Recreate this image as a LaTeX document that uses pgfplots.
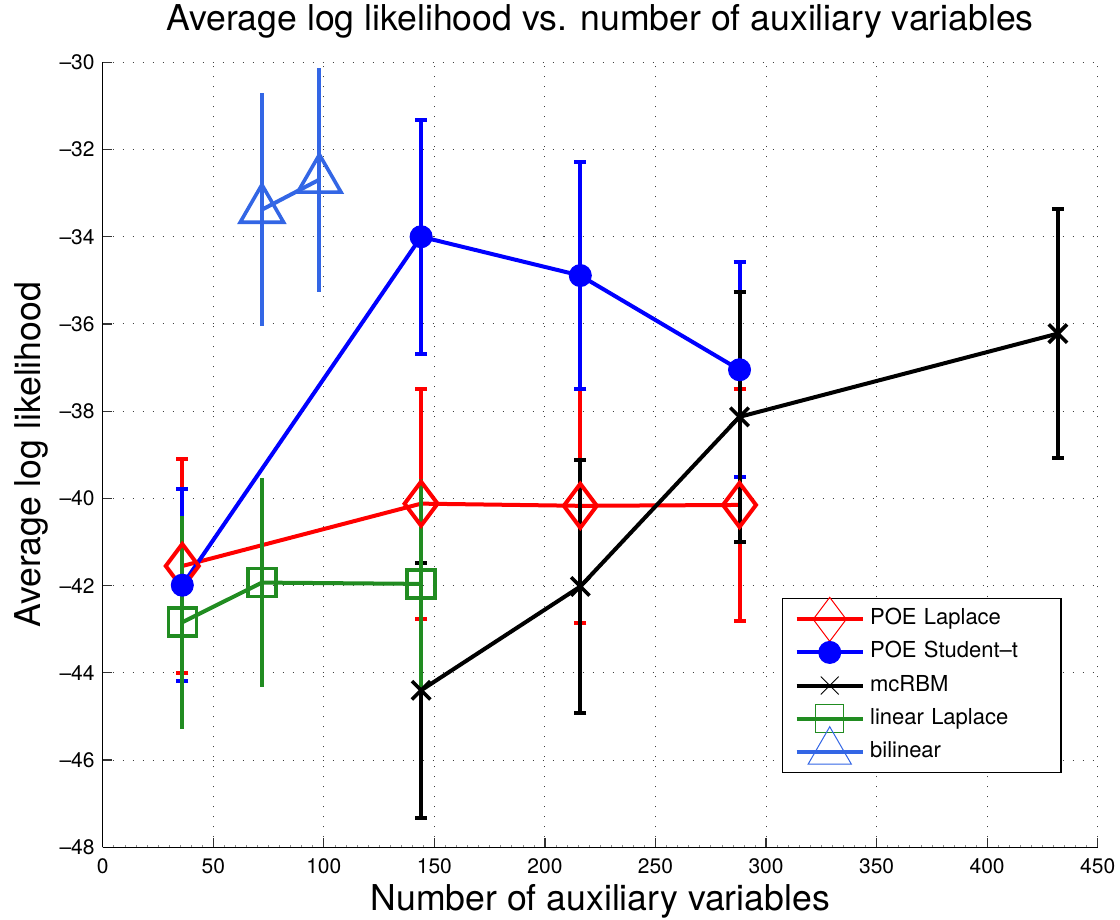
\documentclass[border=0pt]{standalone}
\usepackage{fontspec}
\setmainfont{TeX Gyre Heros}
\usepackage{pgfplots}
\pgfplotsset{compat=1.18}
\definecolor{mred}{rgb}{1,0,0}
\definecolor{mblue}{rgb}{0,0,1}
\definecolor{mgreen}{rgb}{0.13,0.55,0.13}
\definecolor{mbil}{rgb}{0.2,0.4,0.9}
\begin{document}
\begin{tikzpicture}
\begin{axis}[
  name=ax,
  scale only axis,
  width=497.5pt, height=392.5pt,
  xmin=0, xmax=450, ymin=-48, ymax=-30,
  xtick={0,50,...,450},
  ytick={-48,-46,...,-30},
  yticklabels={–48,–46,–44,–42,–40,–38,–36,–34,–32,–30},
  minor x tick num=9,
  axis x line*=bottom, axis y line*=left,
  axis line style={-, line width=0.7pt},
  tick align=inside,
  major tick length=4.5pt, minor tick length=1pt,
  major tick style={black!80, line width=0.6pt},
  minor tick style={black!45, line width=0.3pt},
  grid=major,
  major grid style={black!75, line width=0.5pt, dash pattern=on 0.6pt off 4.4pt},
  /pgf/number format/assume math mode=true,
  ticklabel style={font=\fontsize{10.5}{12}\selectfont},
  xticklabel style={anchor=base, yshift=-13.2pt, inner sep=0pt},
  yticklabel style={anchor=east, xshift=-3.85pt, inner sep=0pt},
  title={Average log likelihood vs. number of auxiliary variables},
  title style={at={(axis description cs:0.5,1.025)}, anchor=base, font=\fontsize{17.8}{21}\selectfont},
  xlabel={Number of auxiliary variables},
  xlabel style={at={(axis description cs:0.5,-0.0803)}, anchor=base, font=\fontsize{17.8}{21}\selectfont},
  ylabel={Average log likelihood},
  ylabel style={at={(axis description cs:-0.0623,0.5)}, anchor=base, font=\fontsize{17.8}{21}\selectfont},
  legend style={at={(0.964,0.318)}, anchor=north east, draw=black, line width=0.75pt, fill=white,
    font=\fontsize{11}{13}\selectfont, row sep=2.05pt, inner xsep=7pt, inner ysep=3.2pt,
    nodes={text width=84.8pt, align=left, text height=8pt, text depth=2.5pt, inner ysep=2pt, inner xsep=3.7pt}},
  legend cell align=left,
  legend image code/.code={\path[draw=none, fill=none] (0pt,-3pt) rectangle (33pt,3pt);
    \draw[overlay, mark repeat=2,mark phase=2] plot coordinates {(0pt,0pt) (16.5pt,0pt) (33pt,0pt)};},
  every axis plot/.append style={line width=2pt},
  error bars/error bar style={line width=2pt, solid},
]
% POE Laplace
\addplot[forget plot, mred, mark=diamond, mark size=11pt, mark options={line width=2pt, fill=none},
  error bars/.cd, y dir=both, y explicit,
  error mark options={rotate=90, mark size=3pt, line width=2pt, mred}]
  table[x=x, y=y, y error=e] {
x y e
36 -41.55 2.46
144 -40.12 2.64
216 -40.17 2.68
288 -40.15 2.67
};
% POE Student-t
\addplot[forget plot, mblue, mark=*, mark size=5.5pt, mark options={fill=mblue, line width=0.5pt},
  error bars/.cd, y dir=both, y explicit,
  error mark options={rotate=90, mark size=3pt, line width=2pt, mblue}]
  table[x=x, y=y, y error=e] {
x y e
36 -41.99 2.20
144 -34.00 2.68
216 -34.89 2.60
288 -37.05 2.47
};
% mcRBM
\addplot[forget plot, black, mark=x, mark size=6.5pt, mark options={line width=1.8pt},
  error bars/.cd, y dir=both, y explicit,
  error mark options={rotate=90, mark size=3pt, line width=2pt, black}]
  table[x=x, y=y, y error=e] {
x y e
144 -44.40 2.92
216 -42.02 2.90
288 -38.13 2.86
432 -36.22 2.85
};
% linear Laplace
\addplot[forget plot, mgreen, mark=square, mark size=7pt, mark options={line width=1.8pt, fill=none},
  error bars/.cd, y dir=both, y explicit, error mark=none]
  table[x=x, y=y, y error=e] {
x y e
36 -42.84 2.44
72 -41.93 2.39
144 -41.96 2.40
};
% bilinear
\addplot[forget plot, mbil, mark=triangle, mark size=12.5pt, mark options={line width=1.8pt, fill=none},
  error bars/.cd, y dir=both, y explicit, error mark=none]
  table[x=x, y=y, y error=e] {
x y e
72 -33.38 2.67
98 -32.69 2.57
};
\addlegendimage{mred, line width=2pt, mark=diamond, mark size=11pt, mark options={line width=0.5pt, fill=none}}
\addlegendentry{POE Laplace}
\addlegendimage{mblue, line width=2pt, mark=*, mark size=5.5pt, mark options={line width=0.5pt, fill=mblue}}
\addlegendentry{POE Student–t}
\addlegendimage{black, line width=2pt, mark=x, mark size=6.3pt, mark options={line width=0.5pt}}
\addlegendentry{mcRBM}
\addlegendimage{mgreen, line width=2pt, mark=square, mark size=7pt, mark options={line width=0.5pt, fill=none}}
\addlegendentry{linear Laplace}
\addlegendimage{mbil, line width=2pt, mark=triangle, mark size=12.5pt, mark options={line width=0.5pt, fill=none}}
\addlegendentry{bilinear}
\end{axis}
\pgfresetboundingbox
\path[use as bounding box] ([xshift=-51.35pt,yshift=-36pt]ax.south west) rectangle ([xshift=11.15pt,yshift=31.15pt]ax.north east);
\end{tikzpicture}
\end{document}
